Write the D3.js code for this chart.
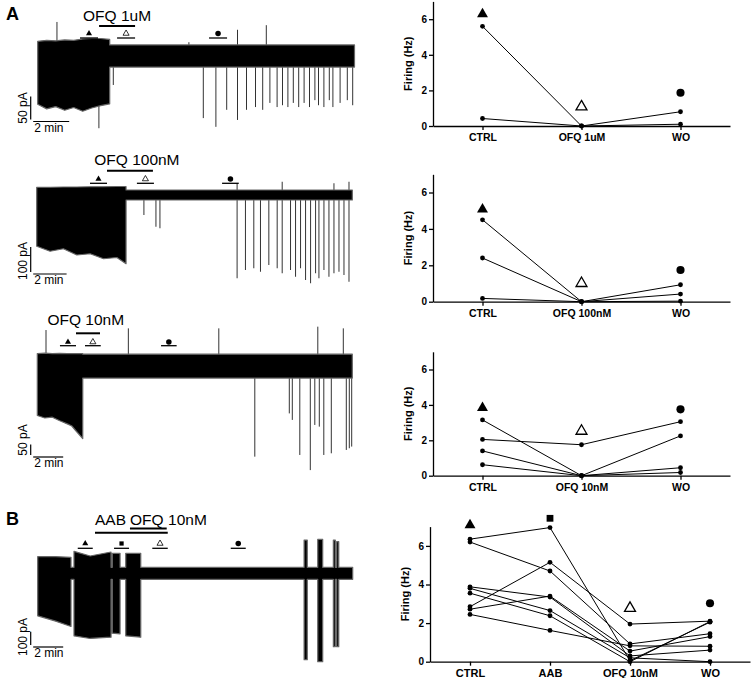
<!DOCTYPE html>
<meta charset="utf-8">
<script src="https://cdn.jsdelivr.net/npm/d3@7"></script>
<style>
  body { margin: 0; background: #fff; }
</style>
<div id="fig"></div>
<script>
  // ---------- recordings: envelope rows are [min, top pA, bottom pA], spikes are [min, pA]
  const trace1Envelope = [[0,32,-105],[0.5,34,-115],[1.0,33,-110],[1.5,35,-118],[2.0,34,-112],[2.5,37,-120],
    [3.0,38,-113],[3.5,38,-108],[4.0,36,-104],[4.0,24,-24],[17.6,24,-24]];
  const trace1Spikes = [[1.07,74],[3.4,-157],[4.2,-63],[8.4,30],[9.2,-135],[9.9,-154],[10.5,-117],[11.1,-139],[11.1,57],
    [11.6,-117],[12.1,-111],[12.5,-117],[12.7,67],[12.9,-102],[13.3,-111],[13.6,-107],[13.9,-111],[14.2,-102],
    [14.5,-111],[14.8,-102],[15.1,-111],[15.4,-96],[15.6,-107],[15.9,-111],[16.2,-96],[16.4,-111],[16.8,-102],
    [17.2,-96],[17.5,-107]];
  const trace1Drug = [[3.41, 5.41]];
  const trace1Epochs = [[2.35, 3.35], [4.41, 5.41], [9.52, 10.52]];

  const trace2Envelope = [[0,31,-205],[0.8,31,-225],[1.6,32,-215],[2.4,32,-240],[3.2,33,-235],[4.0,33,-255],
    [4.8,34,-250],[5.35,34,-275],[5.35,20,-20],[18.9,20,-20]];
  const trace2Spikes = [[6.42,-80],[7.14,-127],[7.38,-133],[12.0,-333],[12.0,47],[12.5,-300],[13.0,-293],[13.4,-307],
    [13.9,-280],[14.4,-293],[14.7,-313],[14.7,53],[15.2,-300],[15.5,-327],[15.8,-293],[16.1,-340],[16.4,-353],
    [16.7,-313],[16.9,-333],[17.2,-300],[17.5,-327],[17.8,-313],[17.8,47],[18.1,-307],[18.4,-320],[18.7,-347],[18.7,53]];
  const trace2Drug = [[4.21, 6.96]];
  const trace2Epochs = [[3.19, 4.21], [6.0, 7.02], [11.1, 12.1]];

  const trace3Envelope = [[0,45,-250],[0.5,47,-262],[1.0,45,-258],[1.5,46,-275],[2.0,45,-290],[2.3,45,-300],
    [2.6,45,-325],[3.03,45,-360],[3.03,42,-72],[21,42,-72]];
  const trace3Spikes = [[0.58,157],[6.07,165],[12.1,165],[14.5,-446],[16.8,-240],[17.0,-271],[17.5,-438],[18.2,-510],
    [18.5,-295],[18.7,173],[18.8,-303],[19.1,-438],[19.6,-430],[20.4,165],[20.6,-414],[20.8,-406],[20.96,-398]];
  const trace3Drug = [[2.58, 4.18]];
  const trace3Epochs = [[1.51, 2.58], [3.18, 4.23], [8.25, 9.29]];

  const trace4Envelope = [[0,125,-320],[1.2,125,-360],[2.22,120,-400],[2.22,45,-45],[2.42,45,-45],[2.42,165,-470],
    [3.5,130,-490],[4.89,160,-480],[4.89,45,-45],[4.97,45,-45],[4.97,150,-450],[5.49,150,-455],[5.49,45,-45],
    [5.87,45,-45],[5.87,150,-470],[6.87,150,-480],[6.87,45,-45],[17.76,45,-45],[17.76,250,-650],[17.97,250,-650],
    [17.97,45,-45],[18.67,45,-45],[18.67,255,-665],[19.0,255,-665],[19.0,45,-45],[19.71,45,-45],[19.71,250,-552],
    [19.84,250,-552],[19.84,45,-45],[19.93,45,-45],[19.93,238,-552],[20.07,238,-552],[20.07,45,-45],[21,45,-45]];
  const trace4Spikes = [];
  const trace4Drug = [[3.82, 8.67], [6.15, 8.6]];
  const trace4Epochs = [[2.67, 3.67], [5.09, 6.09], [7.64, 8.67], [12.87, 13.87]];

  // ---------- firing rates (Hz)
  const cats1 = ["CTRL", "OFQ 1uM", "WO"];
  const firing1 = [[5.6, 0, 0.8], [0.42, 0, 0.1]];
  const markers1 = [6.29, 1.08, 1.87];

  const cats2 = ["CTRL", "OFQ 100nM", "WO"];
  const firing2 = [[4.5, 0, 0.93], [2.4, 0, 0.42], [0.18, 0, 0.03]];
  const markers2 = [5.08, 1.01, 1.74];

  const cats3 = ["CTRL", "OFQ 10nM", "WO"];
  const firing3 = [[3.15, 0, 2.25], [2.05, 1.75, 3.05], [1.4, 0, 0.45], [0.62, 0, 0.18]];
  const markers3 = [3.84, 2.52, 3.75];

  const cats4 = ["CTRL", "AAB", "OFQ 10nM", "WO"];
  const firing4 = [[6.35, 6.95, 0.05, 2.05], [6.2, 4.7, 0.92, 1.45], [2.85, 5.15, 1.95, 2.1], [2.72, 3.4, 0.55, 1.3],
    [3.88, 3.35, 0.3, 0.6], [3.8, 2.65, 0.2, 0.0], [3.55, 2.38, 0.0, 2.08], [2.45, 1.62, 0.82, 0.8]];
  const markers4 = [7.08, 7.43, 2.77, 3.03];

  const yTicks = [0, 2, 4, 6];

  var svg = d3.select("#fig").append("svg")
    .attr("width", 753).attr("height", 678)
    .style("font-family", "'Liberation Sans', Arial, sans-serif");

  // marker shapes
  function symbolPath(kind, size) {
    var t = kind === "circle" ? d3.symbolCircle : kind === "square" ? d3.symbolSquare : d3.symbolTriangle;
    return d3.symbol().type(t).size(size)();
  }
  function addSymbol(g, kind, cx, cy, size, sw) {
    g.append("path")
      .attr("d", symbolPath(kind, size))
      .attr("transform", "translate(" + cx + "," + cy + ")")
      .attr("fill", kind === "otri" ? "#fff" : "#000")
      .attr("stroke", "#000")
      .attr("stroke-width", kind === "otri" ? sw : 0);
  }

  // ---------- traces
  var traces = [
    {env: trace1Envelope, spikes: trace1Spikes, drug: trace1Drug, epochs: trace1Epochs, minutes: 17.6,
     x0: 37.7, ppm: 18, base: 56, ppa: 0.46, sb: [2, 50], sbX: 30.7, sbY: 121.5, sbLabelY: 108,
     drugY: 26, epochY: 38, symY: 33.5, shapes: ["tri", "otri", "circle"],
     labels: [{text: "OFQ 1uM", t: 4.41, y: 21, anchor: "middle"}]},
    {env: trace2Envelope, spikes: trace2Spikes, drug: trace2Drug, epochs: trace2Epochs, minutes: 18.9,
     x0: 36.7, ppm: 16.7, base: 195, ppa: 0.25, sb: [2, 100], sbX: 30.7, sbY: 274, sbLabelY: 261,
     drugY: 170.7, epochY: 183.3, symY: 179, shapes: ["tri", "otri", "circle"],
     labels: [{text: "OFQ 100nM", t: 6.0, y: 165, anchor: "middle"}]},
    {env: trace3Envelope, spikes: trace3Spikes, drug: trace3Drug, epochs: trace3Epochs, minutes: 21,
     x0: 37.3, ppm: 15, base: 363, ppa: 0.21, sb: [2, 50], sbX: 30.7, sbY: 457, sbLabelY: 440,
     drugY: 333.3, epochY: 345.7, symY: 342, shapes: ["tri", "otri", "circle"],
     labels: [{text: "OFQ 10nM", t: 3.23, y: 325, anchor: "middle"}]},
    {env: trace4Envelope, spikes: trace4Spikes, drug: trace4Drug, epochs: trace4Epochs, minutes: 21,
     x0: 37.7, ppm: 15, base: 573.3, ppa: 0.133, sb: [2, 100], sbX: 30.7, sbY: 647, sbLabelY: 637,
     drugY: [532.7, 528.6], epochY: 548.3, symY: 543.5, shapes: ["tri", "square", "otri", "circle"],
     labels: [{text: "AAB", t: 3.82, y: 525, anchor: "start"},
              {text: "OFQ", t: 6.15, y: 525, anchor: "start"},
              {text: "10nM", t: 8.69, y: 525, anchor: "start"}]}
  ];

  traces.forEach(function(tr) {
    var x = d3.scaleLinear().domain([0, tr.minutes]).range([tr.x0, tr.x0 + tr.minutes * tr.ppm]);
    var y = d3.scaleLinear().domain([0, 100]).range([tr.base, tr.base - 100 * tr.ppa]);
    var g = svg.append("g");

    g.selectAll("line.spike").data(tr.spikes).join("line")
      .attr("x1", function(d) { return x(d[0]); })
      .attr("x2", function(d) { return x(d[0]); })
      .attr("y1", y(0))
      .attr("y2", function(d) { return y(d[1]); })
      .attr("stroke", "#333").attr("stroke-width", 1);

    g.append("path").datum(tr.env)
      .attr("d", d3.area()
        .x(function(d) { return x(d[0]); })
        .y0(function(d) { return y(d[2]); })
        .y1(function(d) { return y(d[1]); }))
      .attr("fill", "#000").attr("stroke", "#666").attr("stroke-width", 1.2)
      .attr("stroke-linejoin", "round");

    // drug bars and epoch bars
    tr.drug.forEach(function(d, i) {
      var yy = Array.isArray(tr.drugY) ? tr.drugY[i] : tr.drugY;
      g.append("line").attr("x1", x(d[0])).attr("x2", x(d[1]))
        .attr("y1", yy).attr("y2", yy).attr("stroke", "#000").attr("stroke-width", 2);
    });
    tr.epochs.forEach(function(d, i) {
      g.append("line").attr("x1", x(d[0])).attr("x2", x(d[1]))
        .attr("y1", tr.epochY).attr("y2", tr.epochY).attr("stroke", "#000").attr("stroke-width", 1.3);
      var k = tr.shapes[i];
      addSymbol(g, k, x((d[0] + d[1]) / 2), tr.symY, k === "circle" ? 24 : k === "square" ? 18 : 16, 0.8);
    });

    tr.labels.forEach(function(l) {
      g.append("text").attr("x", x(l.t)).attr("y", l.y)
        .attr("text-anchor", l.anchor)
        .style("font-size", "15.5px")
        .text(l.text);
    });

    // scale bars
    var vLen = y(0) - y(tr.sb[1]);
    var hLen = x(tr.sb[0]) - x(0);
    g.append("line").attr("x1", tr.sbX).attr("x2", tr.sbX)
      .attr("y1", tr.sbY - 2 - vLen).attr("y2", tr.sbY - 2)
      .attr("stroke", "#000").attr("stroke-width", 1.2);
    g.append("line").attr("x1", tr.sbX + 2.5).attr("x2", tr.sbX + 2.5 + hLen)
      .attr("y1", tr.sbY).attr("y2", tr.sbY)
      .attr("stroke", "#000").attr("stroke-width", 1.2);
    g.append("text")
      .attr("transform", "translate(" + (tr.sbX - 4) + "," + tr.sbLabelY + ")rotate(-90)")
      .attr("text-anchor", "middle")
      .style("font-size", "12px")
      .text(tr.sb[1] + " pA");
    g.append("text").attr("x", tr.sbX + 3.5).attr("y", tr.sbY + 10)
      .style("font-size", "12px")
      .text(tr.sb[0] + " min");
  });

  // panel letters
  svg.append("text").attr("x", 6).attr("y", 20).style("font-size", "18px").style("font-weight", "bold").text("A");
  svg.append("text").attr("x", 6).attr("y", 525).style("font-size", "18px").style("font-weight", "bold").text("B");

  // ---------- firing plots
  var plots = [
    {cats: cats1, data: firing1, markers: markers1, left: 433, right: 730, bottom: 126, ppu: 17.8, labelSize: 10.5,
     shapes: ["tri", "otri", "circle"]},
    {cats: cats2, data: firing2, markers: markers2, left: 433, right: 730, bottom: 301.7, ppu: 18.2, labelSize: 10.5,
     shapes: ["tri", "otri", "circle"]},
    {cats: cats3, data: firing3, markers: markers3, left: 433, right: 730, bottom: 475.7, ppu: 17.7, labelSize: 10.5,
     shapes: ["tri", "otri", "circle"]},
    {cats: cats4, data: firing4, markers: markers4, left: 430, right: 750, bottom: 661.7, ppu: 19.3, labelSize: 11,
     shapes: ["tri", "square", "otri", "circle"]}
  ];

  plots.forEach(function(p) {
    var x = d3.scalePoint().domain(p.cats).range([p.left, p.right]).padding(0.5);
    var y = d3.scaleLinear().domain([0, 7]).range([p.bottom, p.bottom - 7 * p.ppu]);
    var g = svg.append("g");

    var ya = g.append("g").attr("transform", "translate(" + p.left + ",0)")
      .call(d3.axisLeft(y).tickValues(yTicks).tickFormat(d3.format("d")).tickSize(4).tickSizeOuter(0));
    var xa = g.append("g").attr("transform", "translate(0," + p.bottom + ")")
      .call(d3.axisBottom(x).tickSize(4).tickSizeOuter(0));
    [ya, xa].forEach(function(a) {
      a.attr("font-family", null).attr("font-size", null);
      a.selectAll("path, line").attr("stroke", "#000").attr("stroke-width", 1.3);
      a.selectAll("text").style("font-weight", "bold").attr("fill", "#000");
    });
    ya.selectAll("text").style("font-size", "10px").attr("x", -6);
    xa.selectAll("text").style("font-size", p.labelSize + "px").attr("dy", "1.05em").attr("y", 4);

    g.append("text")
      .attr("transform", "translate(" + (p.left - 21) + "," + (p.bottom - 3.5 * p.ppu) + ")rotate(-90)")
      .attr("text-anchor", "middle")
      .style("font-size", "11px").style("font-weight", "bold")
      .text("Firing (Hz)");

    var line = d3.line()
      .x(function(d, i) { return x(p.cats[i]); })
      .y(function(d) { return y(d); });
    g.selectAll("path.series").data(p.data).join("path")
      .attr("class", "series")
      .attr("d", line)
      .attr("fill", "none").attr("stroke", "#000").attr("stroke-width", 1);
    p.data.forEach(function(s) {
      g.selectAll(null).data(s).join("circle")
        .attr("cx", function(d, i) { return x(p.cats[i]); })
        .attr("cy", function(d) { return y(d); })
        .attr("r", 2.4).attr("fill", "#000");
    });

    p.markers.forEach(function(v, i) {
      var k = p.shapes[i];
      addSymbol(g, k, x(p.cats[i]), y(v), k === "circle" ? 52 : k === "square" ? 46 : 52, 1.3);
    });
  });
</script>
